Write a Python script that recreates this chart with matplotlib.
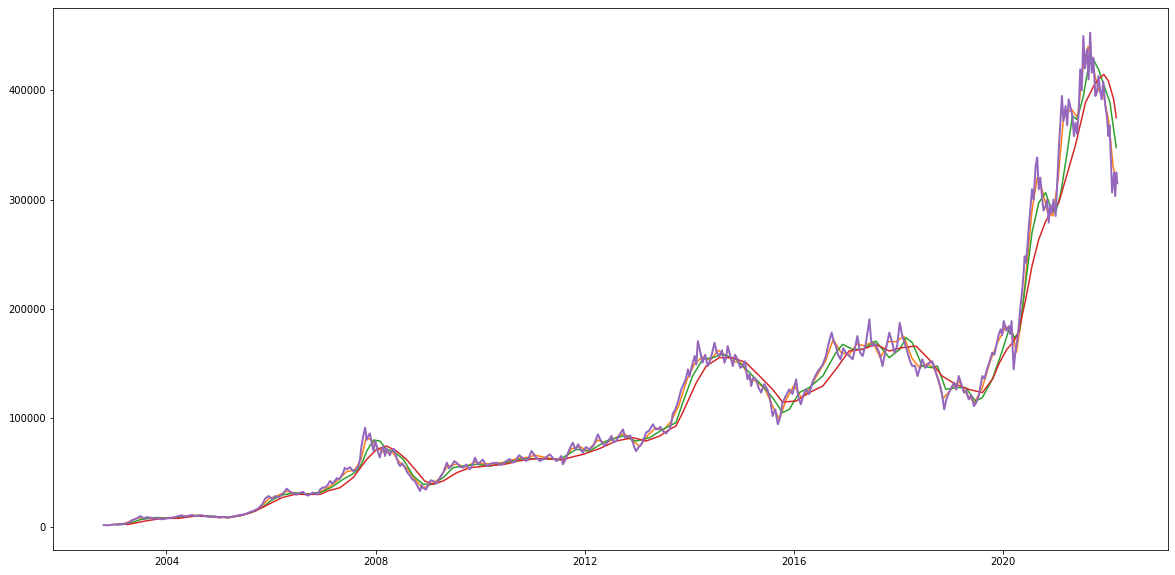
import numpy as np
import pandas as pd
import matplotlib
matplotlib.use("Agg")
import matplotlib.pyplot as plt

# closing price (purple), in thousands
price_t = [2002.80, 2002.95, 2003.10, 2003.28, 2003.40, 2003.50, 2003.58, 2003.66, 2003.80, 2003.92,
           2004.05, 2004.23, 2004.35, 2004.49, 2004.60, 2004.74, 2004.87, 2005.00, 2005.19, 2005.38,
           2005.57, 2005.70, 2005.83, 2005.95, 2006.08, 2006.21, 2006.30, 2006.40, 2006.56, 2006.66,
           2006.75, 2006.84, 2006.94, 2007.03, 2007.13, 2007.22, 2007.30, 2007.38, 2007.45, 2007.57,
           2007.67, 2007.73, 2007.80, 2007.86, 2007.93, 2007.99, 2008.05, 2008.12, 2008.18, 2008.24,
           2008.31, 2008.40, 2008.47, 2008.56, 2008.66, 2008.75, 2008.85, 2008.91, 2009.01, 2009.10,
           2009.23, 2009.36, 2009.45, 2009.55, 2009.67, 2009.80, 2009.90, 2009.99, 2010.12, 2010.31,
           2010.50, 2010.63, 2010.74, 2010.88, 2010.98, 2011.14, 2011.33, 2011.46, 2011.55, 2011.58,
           2011.68, 2011.77, 2011.87, 2011.96, 2012.09, 2012.25, 2012.38, 2012.51, 2012.60, 2012.73,
           2012.82, 2012.92, 2012.98, 2013.08, 2013.17, 2013.30, 2013.40, 2013.49, 2013.62, 2013.68,
           2013.78, 2013.90, 2013.97, 2014.03, 2014.10, 2014.16, 2014.25, 2014.35, 2014.48, 2014.57,
           2014.67, 2014.73, 2014.83, 2014.92, 2015.02, 2015.11, 2015.18, 2015.27, 2015.37, 2015.49,
           2015.59, 2015.69, 2015.78, 2015.91, 2016.04, 2016.13, 2016.23, 2016.35, 2016.48, 2016.61,
           2016.72, 2016.80, 2016.89, 2016.99, 2017.12, 2017.21, 2017.31, 2017.44, 2017.50, 2017.60,
           2017.69, 2017.82, 2017.92, 2018.02, 2018.07, 2018.17, 2018.26, 2018.36, 2018.45, 2018.58,
           2018.71, 2018.81, 2018.87, 2018.96, 2019.06, 2019.15, 2019.25, 2019.34, 2019.44, 2019.53,
           2019.60, 2019.69, 2019.79, 2019.88, 2019.95, 2020.01, 2020.11, 2020.16, 2020.20, 2020.27,
           2020.33, 2020.39, 2020.43, 2020.49, 2020.55, 2020.62, 2020.65, 2020.68, 2020.74, 2020.81,
           2020.87, 2020.93, 2021.00, 2021.03, 2021.06, 2021.12, 2021.19, 2021.25, 2021.32, 2021.38,
           2021.44, 2021.47, 2021.53, 2021.60, 2021.66, 2021.69, 2021.76, 2021.82, 2021.88, 2021.95,
           2022.01, 2022.06, 2022.08, 2022.12, 2022.14, 2022.16, 2022.18]
price_v = [2.1, 2.3, 2.8, 4.3, 7.5, 10.3, 8.0, 8.9, 8.0, 7.3,
           8.5, 10.3, 9.8, 11.3, 10.5, 10.3, 9.6, 8.9, 8.9, 11.0,
           13.4, 15.8, 21.0, 28.6, 28.6, 30.2, 35.4, 31.7, 31.7, 30.2,
           30.2, 31.1, 34.8, 36.3, 42.4, 42.4, 43.9, 50.0, 53.1, 51.5,
           56.1, 74.4, 91.2, 83.6, 76.0, 79.0, 68.4, 71.4, 65.3, 69.8,
           69.8, 63.8, 56.1, 54.6, 47.0, 42.4, 33.2, 36.3, 39.4, 42.4,
           45.5, 59.2, 56.1, 59.2, 54.6, 53.1, 63.8, 59.2, 56.1, 59.2,
           60.7, 59.2, 66.0, 60.7, 69.8, 60.7, 66.8, 60.7, 65.3, 57.7,
           68.4, 77.5, 76.0, 68.4, 71.4, 85.1, 74.4, 83.6, 79.0, 89.7,
           83.6, 77.5, 69.8, 76.0, 86.7, 94.3, 89.7, 88.2, 89.7, 104.0,
           115.0, 132.4, 144.6, 144.6, 156.8, 170.5, 150.7, 147.6, 169.0, 156.8,
           150.7, 165.9, 147.6, 153.8, 147.6, 135.5, 129.3, 135.5, 123.3, 126.3,
           101.9, 94.3, 114.1, 126.3, 135.5, 112.6, 126.3, 132.4, 144.6, 156.8,
           178.2, 165.9, 153.8, 159.9, 153.8, 175.1, 156.8, 190.4, 165.9, 162.9,
           147.6, 178.2, 159.9, 187.3, 175.1, 159.9, 147.6, 138.5, 153.8, 150.7,
           141.6, 126.3, 108.0, 123.3, 132.4, 138.5, 123.3, 117.1, 111.0, 120.1,
           138.5, 144.6, 159.9, 169.0, 181.2, 188.8, 184.2, 188.8, 144.6, 172.1,
           202.5, 233.1, 242.3, 275.8, 309.4, 330.7, 338.4, 309.4, 303.2, 294.1,
           278.9, 288.0, 285.0, 315.5, 345.0, 394.8, 385.6, 391.7, 376.5, 370.4,
           379.6, 419.2, 449.7, 437.5, 452.8, 416.1, 394.8, 413.2, 391.7, 385.6,
           358.2, 333.8, 306.4, 324.7, 303.2, 324.7, 315.0]

# extra in-between price readings (day-to-day swings inside the purple band)
swing_t = [2002.88, 2003.02, 2003.19, 2003.34, 2003.45, 2003.54, 2003.62, 2003.73, 2003.86, 2003.98,
           2004.14, 2004.29, 2004.42, 2004.55, 2004.67, 2004.80, 2004.93, 2005.10, 2005.28, 2005.48,
           2005.63, 2005.76, 2005.89, 2006.02, 2006.15, 2006.25, 2006.35, 2006.48, 2006.61, 2006.70,
           2006.80, 2006.89, 2006.99, 2007.08, 2007.17, 2007.26, 2007.34, 2007.41, 2007.51, 2007.62,
           2007.70, 2007.77, 2007.83, 2007.89, 2007.96, 2008.02, 2008.08, 2008.15, 2008.21, 2008.27,
           2008.35, 2008.44, 2008.51, 2008.61, 2008.70, 2008.80, 2008.88, 2008.96, 2009.05, 2009.16,
           2009.30, 2009.40, 2009.50, 2009.61, 2009.73, 2009.85, 2009.95, 2010.05, 2010.21, 2010.40,
           2010.56, 2010.68, 2010.81, 2010.93, 2011.06, 2011.23, 2011.40, 2011.50, 2011.63, 2011.72,
           2011.82, 2011.91, 2012.02, 2012.17, 2012.31, 2012.44, 2012.55, 2012.66, 2012.77, 2012.87,
           2012.95, 2013.03, 2013.12, 2013.23, 2013.35, 2013.44, 2013.55, 2013.65, 2013.73, 2013.84,
           2013.93, 2014.00, 2014.06, 2014.13, 2014.20, 2014.30, 2014.41, 2014.52, 2014.62, 2014.70,
           2014.78, 2014.87, 2014.97, 2015.06, 2015.15, 2015.22, 2015.32, 2015.43, 2015.54, 2015.64,
           2015.73, 2015.85, 2015.97, 2016.08, 2016.18, 2016.29, 2016.41, 2016.54, 2016.66, 2016.76,
           2016.84, 2016.94, 2017.05, 2017.16, 2017.26, 2017.37, 2017.47, 2017.55, 2017.64, 2017.75,
           2017.87, 2017.97, 2018.05, 2018.12, 2018.21, 2018.31, 2018.40, 2018.51, 2018.64, 2018.76,
           2018.84, 2018.91, 2019.01, 2019.10, 2019.20, 2019.29, 2019.39, 2019.48, 2019.56, 2019.64,
           2019.74, 2019.83, 2019.91, 2019.98, 2020.06, 2020.13, 2020.18, 2020.23, 2020.30, 2020.36,
           2020.41, 2020.46, 2020.52, 2020.58, 2020.71, 2020.77, 2020.84, 2020.90, 2020.96, 2021.09,
           2021.15, 2021.22, 2021.28, 2021.35, 2021.41, 2021.50, 2021.56, 2021.63, 2021.72, 2021.79,
           2021.85, 2021.91, 2021.98, 2022.03]
swing_v = [1.8, 2.6, 3.2, 6.5, 8.6, 9.2, 9.4, 8.3, 8.4, 8.0,
           9.0, 11.0, 10.6, 10.2, 11.1, 9.8, 10.1, 9.5, 10.0, 11.8,
           14.5, 17.5, 26.5, 26.0, 27.5, 32.0, 33.0, 29.8, 32.5, 29.0,
           31.8, 30.0, 36.5, 38.5, 40.0, 45.0, 46.5, 54.5, 55.0, 53.0,
           62.0, 85.0, 80.0, 86.0, 70.0, 75.0, 64.0, 74.0, 72.0, 66.0,
           72.0, 58.0, 58.5, 50.0, 44.0, 38.0, 38.5, 34.5, 43.0, 40.0,
           51.0, 54.0, 60.5, 55.5, 57.5, 57.0, 58.0, 62.0, 58.5, 57.0,
           62.5, 61.0, 63.5, 64.0, 64.5, 63.0, 63.0, 62.0, 62.0, 73.0,
           71.0, 72.0, 73.5, 75.0, 79.0, 78.5, 78.0, 84.5, 82.0, 84.0,
           73.0, 73.5, 80.0, 88.5, 90.0, 92.0, 86.0, 95.0, 108.0, 126.0,
           136.0, 138.0, 150.0, 149.0, 162.0, 158.0, 155.0, 160.0, 162.0, 155.0,
           157.0, 158.0, 146.0, 152.0, 140.0, 137.0, 128.0, 131.0, 118.0, 108.0,
           100.0, 121.0, 122.0, 120.0, 121.0, 122.0, 139.0, 148.0, 168.0, 170.0,
           158.0, 164.0, 157.0, 163.0, 160.0, 168.0, 172.0, 168.0, 158.0, 162.0,
           170.0, 166.0, 180.0, 168.0, 153.0, 148.0, 145.0, 146.0, 152.0, 135.0,
           118.0, 117.0, 128.0, 126.0, 131.0, 125.0, 121.0, 114.0, 128.0, 136.0,
           152.0, 158.0, 176.0, 176.0, 180.0, 177.0, 165.0, 160.0, 185.0, 215.0,
           248.0, 255.0, 292.0, 300.0, 320.0, 290.0, 300.0, 295.0, 300.0, 370.0,
           372.0, 368.0, 385.0, 358.0, 360.0, 400.0, 420.0, 410.0, 430.0, 398.0,
           400.0, 408.0, 376.0, 368.0]

# short moving average (orange)
ma_short_t = [2002.90, 2003.20, 2003.45, 2003.70, 2003.95, 2004.25, 2004.50, 2004.75, 2005.00, 2005.20,
              2005.40, 2005.60, 2005.80, 2005.95, 2006.10, 2006.30, 2006.45, 2006.65, 2006.85, 2007.05,
              2007.25, 2007.45, 2007.60, 2007.72, 2007.82, 2007.92, 2008.05, 2008.18, 2008.32, 2008.45,
              2008.60, 2008.75, 2008.90, 2009.05, 2009.20, 2009.38, 2009.55, 2009.72, 2009.90, 2010.05,
              2010.30, 2010.50, 2010.70, 2010.90, 2011.05, 2011.25, 2011.45, 2011.60, 2011.75, 2011.90,
              2012.05, 2012.25, 2012.40, 2012.55, 2012.75, 2012.90, 2013.05, 2013.20, 2013.35, 2013.50,
              2013.65, 2013.80, 2013.95, 2014.10, 2014.25, 2014.40, 2014.55, 2014.70, 2014.85, 2015.00,
              2015.15, 2015.30, 2015.45, 2015.60, 2015.72, 2015.85, 2016.00, 2016.15, 2016.30, 2016.45,
              2016.60, 2016.75, 2016.90, 2017.05, 2017.20, 2017.35, 2017.50, 2017.65, 2017.80, 2017.95,
              2018.10, 2018.25, 2018.40, 2018.55, 2018.70, 2018.85, 2019.00, 2019.15, 2019.30, 2019.45,
              2019.60, 2019.75, 2019.90, 2020.05, 2020.18, 2020.25, 2020.35, 2020.45, 2020.55, 2020.65,
              2020.75, 2020.85, 2020.95, 2021.05, 2021.15, 2021.30, 2021.42, 2021.52, 2021.62, 2021.72,
              2021.82, 2021.92, 2022.02, 2022.10, 2022.16]
ma_short_v = [2.2, 3.5, 8.5, 9.0, 7.8, 10.0, 11.0, 10.5, 9.0, 9.0,
              10.8, 13.0, 18.5, 26.0, 28.5, 33.0, 31.5, 30.0, 31.0, 35.0,
              42.0, 51.0, 52.5, 62.0, 82.0, 80.0, 72.0, 68.0, 69.0, 60.0,
              54.0, 44.0, 36.0, 39.0, 44.0, 56.0, 58.0, 55.0, 60.0, 58.0,
              58.5, 60.0, 63.0, 64.0, 66.0, 64.0, 62.0, 61.0, 72.0, 74.0,
              70.0, 80.0, 77.0, 81.0, 86.0, 80.0, 74.0, 84.0, 91.0, 89.0,
              97.0, 112.0, 135.0, 150.0, 156.0, 153.0, 162.0, 157.0, 152.0, 150.0,
              136.0, 133.0, 126.0, 110.0, 99.0, 117.0, 130.0, 118.0, 127.0, 140.0,
              152.0, 172.0, 160.0, 158.0, 168.0, 166.0, 170.0, 155.0, 170.0, 170.0,
              175.0, 155.0, 146.0, 150.0, 144.0, 118.0, 126.0, 134.0, 122.0, 114.0,
              128.0, 152.0, 170.0, 184.0, 178.0, 160.0, 190.0, 240.0, 290.0, 320.0,
              308.0, 288.0, 285.0, 320.0, 375.0, 383.0, 375.0, 420.0, 440.0, 420.0,
              400.0, 395.0, 370.0, 330.0, 320.0]

# medium moving average (green)
ma_mid_t = [2003.05, 2003.25, 2003.50, 2003.80, 2004.05, 2004.30, 2004.60, 2004.90, 2005.15, 2005.40,
            2005.65, 2005.85, 2006.00, 2006.20, 2006.45, 2006.70, 2006.95, 2007.15, 2007.38, 2007.55,
            2007.67, 2007.75, 2007.83, 2007.96, 2008.08, 2008.21, 2008.34, 2008.53, 2008.72, 2008.91,
            2009.10, 2009.29, 2009.48, 2009.67, 2009.93, 2010.18, 2010.50, 2010.82, 2011.20, 2011.52,
            2011.84, 2012.09, 2012.41, 2012.73, 2012.98, 2013.24, 2013.49, 2013.74, 2013.87, 2014.06,
            2014.25, 2014.44, 2014.64, 2014.89, 2015.15, 2015.40, 2015.59, 2015.78, 2015.91, 2016.10,
            2016.29, 2016.55, 2016.80, 2016.93, 2017.12, 2017.31, 2017.56, 2017.69, 2017.82, 2018.02,
            2018.14, 2018.26, 2018.45, 2018.61, 2018.74, 2018.90, 2019.09, 2019.28, 2019.47, 2019.60,
            2019.79, 2019.98, 2020.11, 2020.22, 2020.31, 2020.43, 2020.55, 2020.68, 2020.81, 2020.90,
            2021.00, 2021.10, 2021.22, 2021.32, 2021.41, 2021.53, 2021.63, 2021.72, 2021.82, 2021.95,
            2022.04, 2022.11, 2022.16]
ma_mid_v = [2.2, 3.0, 7.0, 9.0, 8.5, 9.5, 11.0, 10.0, 9.0, 10.5,
            14.0, 19.0, 24.5, 29.5, 31.5, 30.5, 32.0, 36.5, 44.0, 48.5,
            53.1, 60.0, 69.8, 79.9, 79.0, 71.4, 69.8, 62.2, 47.0, 39.4,
            39.4, 45.5, 54.6, 56.1, 57.7, 56.1, 59.2, 62.9, 62.9, 62.2,
            71.4, 69.8, 79.0, 83.6, 79.0, 82.1, 89.7, 95.8, 114.0, 138.5,
            153.8, 155.3, 158.4, 153.8, 141.6, 129.3, 118.7, 105.0, 108.0, 123.3,
            127.9, 138.5, 159.9, 167.5, 162.9, 162.9, 170.5, 162.9, 155.3, 162.9,
            173.6, 169.0, 147.6, 146.2, 147.6, 126.3, 127.9, 127.9, 115.6, 118.7,
            135.5, 161.4, 181.2, 173.6, 179.7, 224.0, 269.7, 297.2, 306.4, 294.1,
            288.0, 306.4, 343.0, 376.5, 373.3, 394.8, 422.2, 428.3, 419.2, 400.9,
            388.7, 364.3, 347.6]

# long moving average (red)
ma_long_t = [2003.25, 2003.60, 2003.92, 2004.23, 2004.55, 2004.87, 2005.19, 2005.44, 2005.70, 2005.95,
             2006.21, 2006.46, 2006.78, 2006.94, 2007.10, 2007.32, 2007.57, 2007.83, 2008.02, 2008.21,
             2008.40, 2008.59, 2008.78, 2008.94, 2009.10, 2009.29, 2009.55, 2009.80, 2010.12, 2010.50,
             2010.72, 2011.07, 2011.58, 2011.96, 2012.28, 2012.60, 2012.92, 2013.17, 2013.43, 2013.62,
             2013.74, 2013.87, 2014.13, 2014.32, 2014.57, 2014.83, 2015.08, 2015.34, 2015.59, 2015.78,
             2016.04, 2016.29, 2016.55, 2016.80, 2017.05, 2017.31, 2017.56, 2017.82, 2018.07, 2018.33,
             2018.58, 2018.83, 2019.09, 2019.34, 2019.60, 2019.80, 2019.92, 2020.07, 2020.20, 2020.29,
             2020.43, 2020.55, 2020.68, 2020.81, 2020.93, 2021.06, 2021.19, 2021.38, 2021.57, 2021.76,
             2021.92, 2022.01, 2022.11, 2022.16]
ma_long_v = [2.5, 5.8, 8.2, 8.2, 10.3, 9.8, 8.9, 11.0, 14.9, 21.0,
             27.2, 30.2, 30.2, 30.2, 33.5, 36.3, 45.5, 62.2, 71.4, 74.4,
             69.8, 62.2, 51.5, 42.4, 39.4, 42.4, 50.0, 54.6, 56.1, 58.0,
             60.7, 62.9, 62.2, 66.8, 72.0, 79.0, 82.1, 79.0, 83.6, 89.7,
             92.7, 105.0, 132.4, 147.6, 155.3, 155.3, 150.7, 138.5, 126.3, 114.7,
             115.6, 123.3, 129.3, 144.6, 161.4, 162.9, 167.5, 161.4, 164.5, 165.9,
             153.8, 138.5, 130.9, 126.3, 123.3, 136.0, 150.0, 163.0, 170.0, 178.2,
             208.7, 239.2, 263.6, 280.0, 290.0, 297.2, 318.5, 350.0, 388.7, 407.0,
             414.6, 408.5, 391.7, 375.0]


def to_dates(years):
    years = np.asarray(years)
    whole = years.astype(int)
    base = pd.to_datetime([f"{y}-01-01" for y in whole])
    return base + pd.to_timedelta((years - whole) * 365.25, unit="D")


# merge the main readings with the in-between swings
all_t = np.array(price_t + swing_t)
all_v = np.array(price_v + swing_v)
order = np.argsort(all_t)
all_t, all_v = all_t[order], all_v[order]

fig = plt.figure(figsize=(1175 / 72, 575 / 72), dpi=72)
ax = fig.add_subplot(111)
fig.subplots_adjust(left=53 / 1175, right=1168 / 1175, bottom=25 / 575, top=567 / 575)

ax.plot(to_dates(ma_short_t), np.array(ma_short_v) * 1000, color="tab:orange", lw=1.5)
ax.plot(to_dates(ma_mid_t), np.array(ma_mid_v) * 1000, color="tab:green", lw=1.5)
ax.plot(to_dates(ma_long_t), np.array(ma_long_v) * 1000, color="tab:red", lw=1.5)
ax.plot(to_dates(all_t), all_v * 1000, color="tab:purple", lw=2)

plt.savefig("out.png", dpi=72)
